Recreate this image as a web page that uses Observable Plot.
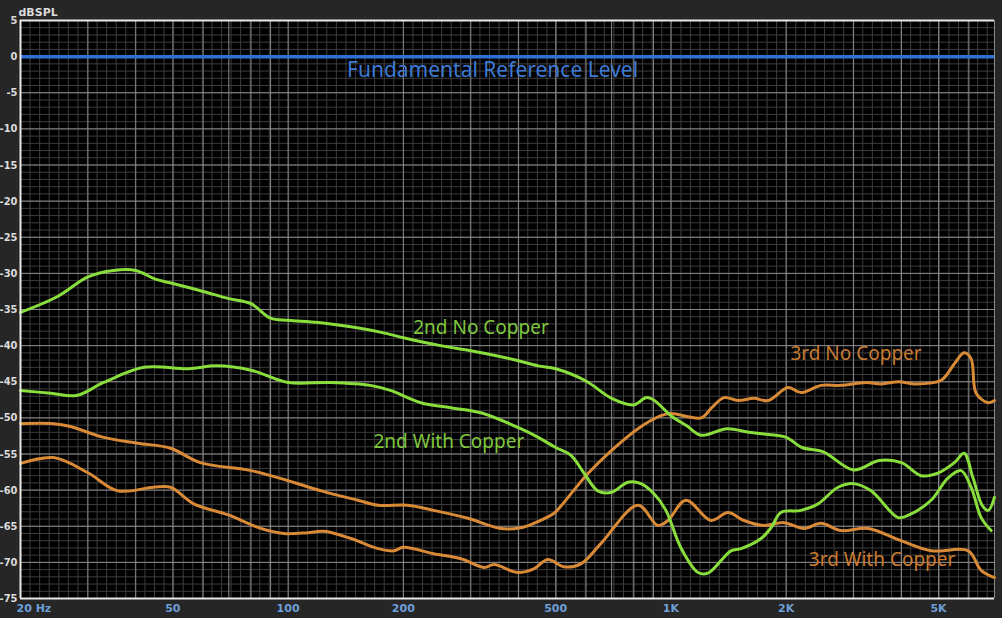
<!DOCTYPE html>
<html>
<head>
<meta charset="utf-8">
<script src="https://cdn.jsdelivr.net/npm/d3@7"></script>
<script src="https://cdn.jsdelivr.net/npm/@observablehq/plot@0.6"></script>
<style>
  html, body { margin: 0; padding: 0; background: #262626; }
  #chart svg { display: block; }
</style>
</head>
<body>
<div id="chart"></div>
<script>
// ---- Data ----
const yTicks = [5, 0, -5, -10, -15, -20, -25, -30, -35, -40, -45, -50, -55, -60, -65, -70, -75];
const xTickValues = [20, 50, 100, 200, 500, 1000, 2000, 5000];
const xTickLabels = ["20 Hz", "50", "100", "200", "500", "1K", "2K", "5K"];
const xMajorGrid = [20, 30, 40, 50, 60, 70, 80, 90, 100, 200, 300, 400, 500, 600, 700, 800, 900, 1000, 2000, 3000, 4000, 5000, 6000, 7000];

const fundamentalDb = [0];

const noCopper2ndFreq = [20,25,30,35,40,45,50,60,70,80,90,100,120,150,180,200,250,300,350,400,450,500,600,700,800,860,900,1000,1100,1200,1400,1600,1800,2000,2200,2500,3000,3500,4000,4500,5000,5500,5830,6150,6500,6740,7000];
const noCopper2ndDb = [-35.4,-33.2,-30.5,-29.6,-29.6,-30.8,-31.4,-32.5,-33.5,-34.2,-36.2,-36.5,-36.8,-37.5,-38.3,-38.9,-40.0,-40.7,-41.4,-42.1,-42.8,-43.2,-44.9,-47.3,-48.2,-47.2,-47.5,-49.7,-51.1,-52.4,-51.5,-52.0,-52.3,-52.7,-54.1,-54.7,-57.2,-55.9,-56.2,-58.0,-57.6,-56.2,-54.9,-58.3,-62.1,-62.8,-61.0];

const withCopper2ndFreq = [20,24,28,33,42,55,65,80,100,129,164,185,222,266,319,405,450,500,548,592,644,700,772,835,903,970,1062,1177,1249,1435,1524,1719,1826,1938,2186,2422,2732,3000,3332,3920,4160,4780,5296,5726,6080,6460,6860];
const withCopper2ndDb = [-46.2,-46.6,-46.9,-45.1,-43.0,-43.2,-42.8,-43.4,-45.1,-45.1,-45.5,-46.2,-47.9,-48.6,-49.3,-51.5,-52.7,-54.1,-55.2,-57.6,-60.1,-60.3,-58.9,-59.1,-60.5,-62.8,-68.0,-71.4,-71.5,-68.4,-68.1,-66.7,-65.2,-63.1,-62.8,-61.9,-59.6,-59.1,-60.1,-63.8,-63.5,-61.4,-58.3,-57.3,-59.6,-63.8,-65.6];

const noCopper3rdFreq = [20,24.4,27,33,40.4,49.3,59,80,100,122,152,172,205,240,295,359,405,438,495,516,560,607,700,820,942,1000,1200,1272,1376,1496,1647,1794,2022,2186,2466,2781,3234,3538,3942,4316,5078,5500,5830,6080,6268,6740,7000];
const noCopper3rdDb = [-50.8,-50.8,-51.2,-52.7,-53.5,-54.2,-56.2,-57.3,-58.7,-60.1,-61.4,-62.1,-62.1,-62.8,-63.9,-65.3,-65.2,-64.6,-63.2,-62.2,-59.9,-57.7,-54.5,-51.5,-49.7,-49.4,-50.0,-48.7,-47.2,-47.6,-47.3,-47.6,-45.8,-46.5,-45.5,-45.5,-45.1,-45.3,-45.0,-45.3,-44.8,-42.5,-41.0,-41.8,-46.6,-47.9,-47.6];

const withCopper3rdFreq = [20,24.4,30,35.9,44.5,49.3,56.7,69.5,84.8,97.4,112.5,124,146,172,189,200,240,283,325,345,398,438,477,525,582,656,820,925,982,1094,1272,1409,1551,1750,1974,2226,2466,2781,3272,3990,4780,5975,6460,7000];
const withCopper3rdDb = [-56.3,-55.5,-57.6,-60.1,-59.6,-59.6,-61.9,-63.4,-65.3,-66.0,-65.9,-65.7,-66.7,-68.1,-68.4,-67.9,-68.8,-69.5,-70.7,-70.3,-71.4,-70.9,-69.6,-70.6,-70.2,-67.4,-62.1,-64.9,-64.2,-61.4,-64.2,-63.1,-64.2,-64.9,-64.5,-65.3,-64.6,-65.6,-65.3,-67.0,-68.4,-68.4,-71.1,-72.1];

const seriesNames = ["2nd No Copper", "2nd With Copper", "3rd No Copper", "3rd With Copper"];
const referenceLabel = "Fundamental Reference Level";
const yAxisTitle = "dBSPL";

// ---- Build tables ----
const rows = (f, db, name) => f.map((v, i) => ({f: v, db: db[i], series: name}));
const s2n = rows(noCopper2ndFreq, noCopper2ndDb, seriesNames[0]);
const s2w = rows(withCopper2ndFreq, withCopper2ndDb, seriesNames[1]);
const s3n = rows(noCopper3rdFreq, noCopper3rdDb, seriesNames[2]);
const s3w = rows(withCopper3rdFreq, withCopper3rdDb, seriesNames[3]);

const xLabels = xTickValues.map((v, i) => ({f: v, label: xTickLabels[i]}));
const xMinorGrid = d3.range(0, 120).map(i => 20 * Math.pow(10, i / 40)).filter(f => f <= 7000);
const yMinorGrid = d3.range(-75, 6, 1);

const GREEN = "#8ade3c", GREEN_T = "#7fc83e";
const ORANGE = "#d98a36", ORANGE_T = "#c97b32";
const BLUE = "#2f70d6", BLUE_T = "#3c7ad4";
const labelFont = "'Noto Sans', 'Open Sans', sans-serif";
const narrowFont = "'Liberation Sans Narrow', 'DejaVu Sans Condensed', sans-serif";

const chart = Plot.plot({
  width: 1002,
  height: 618,
  marginLeft: 20,
  marginRight: 8,
  marginTop: 20,
  marginBottom: 20,
  x: {type: "log", domain: [20, 7000], axis: null},
  y: {domain: [-75, 5], axis: null},
  style: {background: "#262626", fontFamily: "'DejaVu Sans', sans-serif", overflow: "hidden"},
  marks: [
    Plot.frame({fill: "black", stroke: null}),
    Plot.ruleX(xMinorGrid, {stroke: "#3d3d3d", strokeWidth: 1}),
    Plot.ruleY(yMinorGrid, {stroke: "#3d3d3d", strokeWidth: 1}),
    Plot.ruleX(xMajorGrid, {stroke: "#8a8a8a", strokeWidth: 1}),
    Plot.ruleY(yTicks, {stroke: "#8a8a8a", strokeWidth: 1}),
    Plot.ruleY(fundamentalDb, {stroke: BLUE, strokeWidth: 3.5}),
    Plot.line(s3n, {x: "f", y: "db", stroke: ORANGE, strokeWidth: 3, curve: "catmull-rom"}),
    Plot.line(s3w, {x: "f", y: "db", stroke: ORANGE, strokeWidth: 3, curve: "catmull-rom"}),
    Plot.line(s2n, {x: "f", y: "db", stroke: GREEN, strokeWidth: 3, curve: "catmull-rom"}),
    Plot.line(s2w, {x: "f", y: "db", stroke: GREEN, strokeWidth: 3, curve: "catmull-rom"}),
    // white frame (top, left, bottom)
    Plot.ruleX([20], {stroke: "#e8e8e8", strokeWidth: 2}),
    Plot.ruleY([5, -75], {stroke: "#e8e8e8", strokeWidth: 2}),
    // y tick labels
    Plot.axisY(yTicks, {tickSize: 0, tickPadding: 3, fontSize: 11, fontWeight: "bold", fontFamily: narrowFont, fill: "#dcdcdc", tickFormat: d => String(d), label: null}),
    // x tick labels
    Plot.text(xLabels.slice(0, 1), {x: "f", text: "label", frameAnchor: "bottom", dy: 13, dx: -4, textAnchor: "start", fontSize: 11, fontWeight: "bold", fill: "#6f9fd8"}),
    Plot.text(xLabels.slice(1), {x: "f", text: "label", frameAnchor: "bottom", dy: 13, fontSize: 11, fontWeight: "bold", fill: "#6f9fd8"}),
    // y title
    Plot.text([yAxisTitle], {frameAnchor: "top-left", dy: -12, dx: -2, textAnchor: "start", fontSize: 11, fontWeight: "bold", fill: "#dcdcdc"}),
    // annotations
    Plot.text([referenceLabel], {x: [342], y: [-1.9], fill: BLUE_T, fontSize: 21, fontFamily: labelFont}),
    Plot.text([seriesNames[0]], {x: [319], y: [-37.5], fill: GREEN_T, fontSize: 19, fontFamily: labelFont}),
    Plot.text([seriesNames[1]], {x: [263], y: [-53.3], fill: GREEN_T, fontSize: 19, fontFamily: labelFont}),
    Plot.text([seriesNames[2]], {x: [3044], y: [-41.1], fill: ORANGE_T, fontSize: 19, fontFamily: labelFont}),
    Plot.text([seriesNames[3]], {x: [3560], y: [-69.7], fill: ORANGE_T, fontSize: 19, fontFamily: labelFont})
  ]
});
document.getElementById("chart").appendChild(chart);
</script>
</body>
</html>
